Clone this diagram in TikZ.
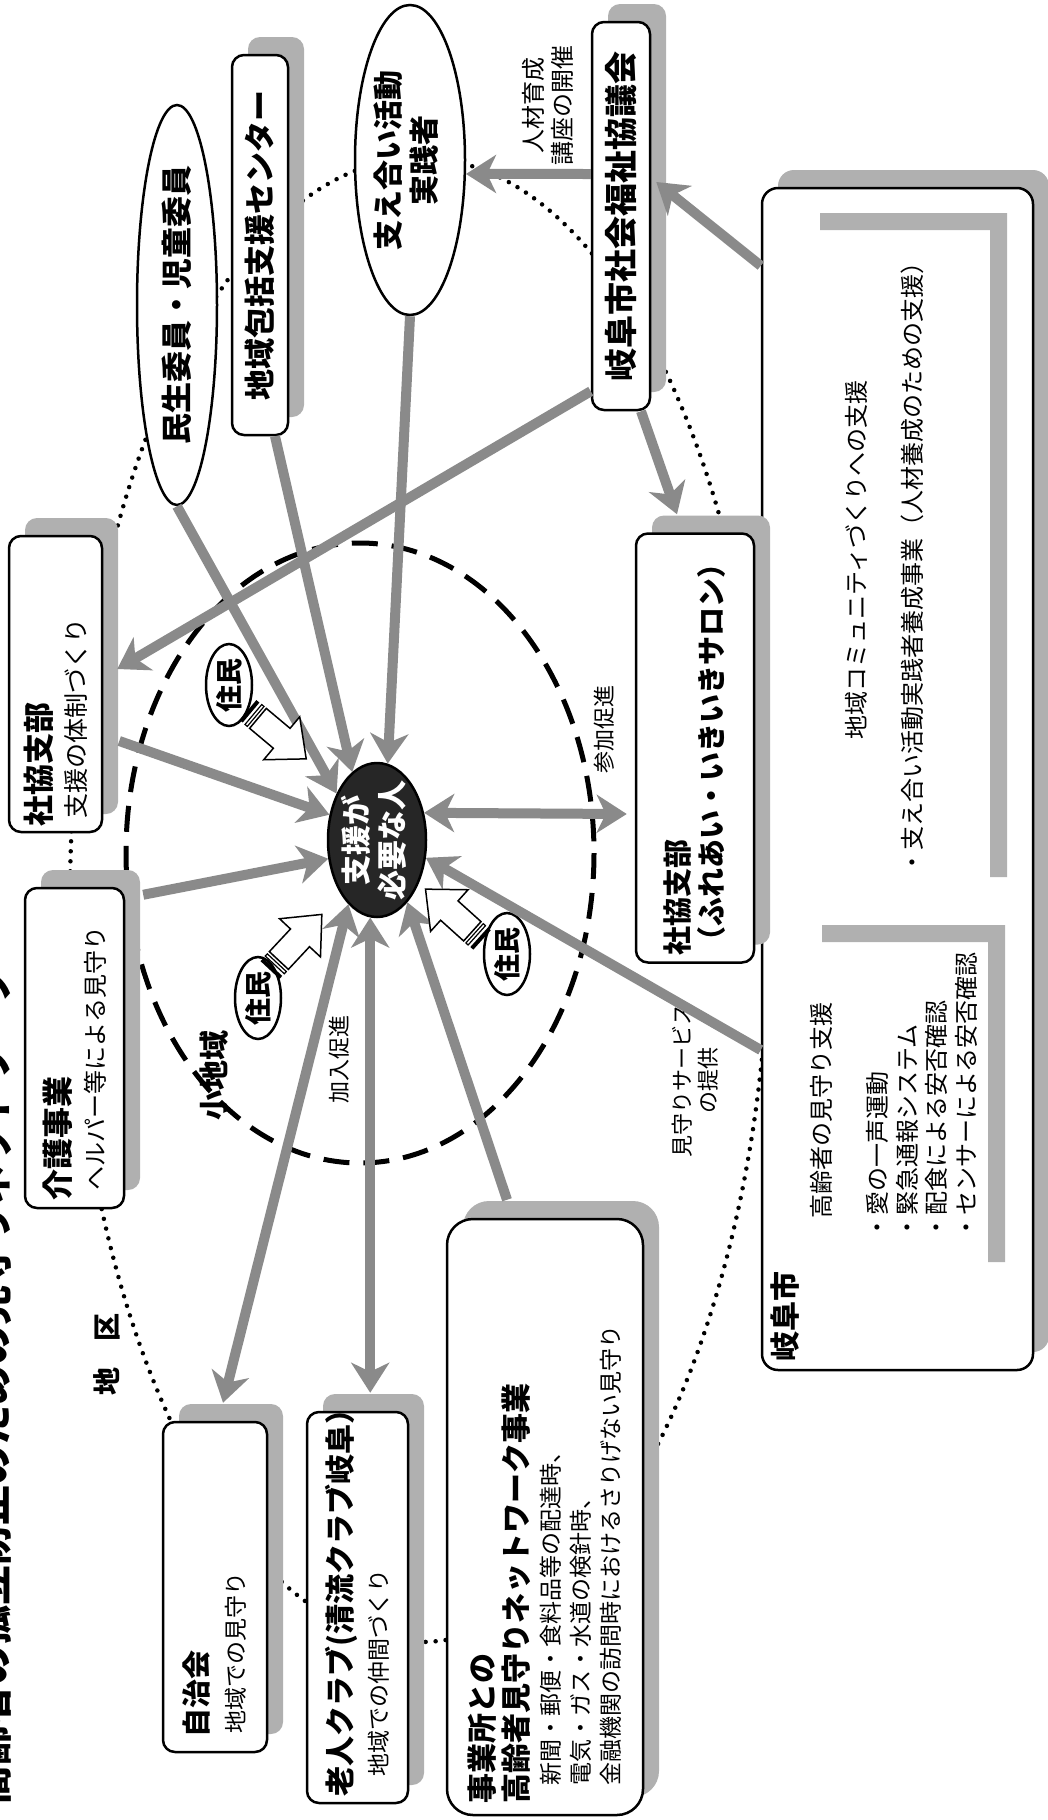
\documentclass[tikz,border=0pt]{standalone}
\usepackage{fontspec}
\setmainfont{Noto Sans CJK JP}
\usepackage{graphicx}
\usetikzlibrary{shapes.geometric, arrows.meta, positioning, shadows}

\definecolor{arrgray}{RGB}{138,138,138}
\definecolor{shgray}{RGB}{176,176,176}
\definecolor{inkdark}{RGB}{38,38,38}

\newcommand{\fs}[2]{\fontsize{#1}{#2}\selectfont}
\newcommand{\tate}[2]{\rotatebox{90}{\parbox{#1}{\raggedright #2}}}
\newcommand{\tatec}[2]{\rotatebox{90}{#1\begin{tabular}{@{}c@{}}#2\end{tabular}}}
\newcommand{\tatel}[2]{\rotatebox{90}{#1\begin{tabular}{@{}l@{}}#2\end{tabular}}}
\newcommand{\stripearrow}[2]{%
  \begin{scope}[shift={#1}, rotate=#2]
    \fill (0,-13) rectangle (4,13);
    \draw[line width=1.2pt] (7,-13) rectangle (10,13);
    \draw[line width=1.5pt, fill=white] (13,-13) -- (44,-13) -- (44,-28) -- (76,0)
      -- (44,28) -- (44,13) -- (13,13) -- cycle;
  \end{scope}}

\begin{document}
\begin{tikzpicture}[x=1pt, y=-1pt, >={Stealth[length=30pt, width=38pt, inset=9pt]}]
        \tikzstyle{panel} = [draw=black, line width=2.5pt, rounded corners=12pt, fill=white, inner sep=0pt,
          general shadow={fill=shgray, shadow xshift=16pt, shadow yshift=18pt}]
        \tikzstyle{oval} = [ellipse, draw=black, line width=2.5pt, fill=white, inner sep=0pt]
        \tikzstyle{connect} = [->, line width=10pt, draw=arrgray]
        \tikzstyle{twoway} = [<->, line width=10pt, draw=arrgray]
        \tikzstyle{lbl} = [inner sep=0pt]
        \path[fill=white, use as bounding box] (0,0) rectangle (1047,1820);

        % rings
        \draw[line width=4.5pt, line cap=round, dash pattern=on 0pt off 10pt] (420,900) ellipse [x radius=350, y radius=742];
        \draw[line width=5pt, dash pattern=on 26pt off 14pt] (360,853) ellipse [x radius=234, y radius=310];

        \node[lbl, anchor=south] (ttl) at (-8,1806) {\rotatebox{90}{\fs{40}{40}\bfseries 高齢者の孤立防止のための見守りネットワーク}};

        % city
        \node[panel, rounded corners=16pt, minimum width=271pt, minimum height=1182pt] (city) at (897.5,779) {};
        \fill[shgray] (820,213) rectangle (1007,230) (990,213) rectangle (1007,877);
        \fill[shgray] (822,925) rectangle (1005,942) (988,925) rectangle (1005,1262);
        \node[lbl, anchor=south] (cityname) at (785,1362) {\rotatebox{90}{\fs{30}{30}\bfseries 岐阜市}};
        \node[lbl] (watchhd) at (821,1110) {\rotatebox{90}{\fs{24}{24}高齢者の見守り支援}};
        \node[lbl, anchor=south] (watchls) at (925,1240) {\tatel{\fs{24}{29.5}}{・愛の一声運動\\・緊急通報システム\\・配食による安否確認\\・センサーによる安否確認}};
        \node[lbl] (commhd) at (856,560) {\rotatebox{90}{\fs{24}{24}地域コミュニティづくりへの支援}};
        \node[lbl, anchor=south] (trainls) at (912,875) {\rotatebox{90}{\fs{24}{24}・支え合い活動実践者養成事業（人材養成のための支援）}};

        % upper nodes
        \node[panel, minimum width=58pt, minimum height=388pt] (shk) at (621,216) {\rotatebox{90}{\fs{33}{33}\bfseries 岐阜市社会福祉協議会}};
        \node[panel, minimum width=56pt, minimum height=380pt] (hokatsu) at (260,245) {\rotatebox{90}{\fs{31}{31}\bfseries 地域包括支援センター}};
        \node[oval, minimum width=80pt, minimum height=400pt] (minsei) at (177,305) {\rotatebox{90}{\fs{31}{31}\bfseries 民生委員・児童委員}};
        \node[oval, minimum width=110pt, minimum height=310pt] (sasae) at (410,160) {\tatec{\fs{30}{34}\bfseries}{支え合い活動\\実践者}};
        \node[lbl] (jinzai) at (551,105) {\tatec{\fs{24}{29}}{人材育成\\講座の開催}};

        % centre
        \node[oval, fill=inkdark, text=white, inner sep=-8pt, minimum width=98pt, minimum height=154pt] (sien) at (377,840) {\tatec{\fs{30}{34}\bfseries}{支援が\\必要な人}};
        \node[oval, minimum width=46pt, minimum height=82pt] (ju1) at (229,685) {\rotatebox{90}{\fs{27}{27}\bfseries 住民}};
        \node[oval, minimum width=46pt, minimum height=82pt] (ju2) at (258,998) {\rotatebox{90}{\fs{27}{27}\bfseries 住民}};
        \node[oval, minimum width=46pt, minimum height=82pt] (ju3) at (507,954) {\rotatebox{90}{\fs{27}{27}\bfseries 住民}};

        % side boxes
        \node[panel, minimum width=93pt, minimum height=296pt] (shakyo) at (55.5,684) {\tate{284pt}{\fs{25}{35}{\fs{31}{31}\bfseries 社協支部}\\\hspace*{8pt}支援の体制づくり}};
        \node[panel, minimum width=99pt, minimum height=320pt] (kaigo) at (74.5,1048) {\tate{304pt}{\fs{24}{35}{\fs{31}{31}\bfseries 介護事業}\\\hspace*{10pt}ヘルパー等による見守り}};
        \node[panel, minimum width=118pt, minimum height=429pt] (salon) at (695,748) {\tate{415pt}{\fs{29}{34}\bfseries 社協支部\\（ふれあい・いきいきサロン）}};

        % bottom boxes
        \node[panel, minimum width=104pt, minimum height=330pt] (jichi) at (215,1587) {\tate{300pt}{\fs{23}{37}{\fs{29}{29}\bfseries 自治会}\\\hspace*{4pt}地域での見守り}};
        \node[panel, minimum width=101pt, minimum height=391pt] (rojin) at (357.5,1607.5) {\tate{378pt}{\fs{23}{36}{\fs{30}{30}\bfseries 老人クラブ(清流クラブ岐阜）}\\\hspace*{20pt}地域での仲間づくり}};
        \node[panel, rounded corners=26pt, minimum width=196pt, minimum height=596pt] (jigyo) at (545,1517) {\tate{572pt}{\fs{30}{34}\bfseries 事業所との\\高齢者見守りネットワーク事業\\[2pt]\fs{23}{30}\mdseries\hspace*{18pt}新聞・郵便・食料品等の配達時、\\\hspace*{18pt}電気・ガス・水道の検針時、\\\hspace*{18pt}金融機関の訪問時におけるさりげない見守り}};

        % labels
        \node[lbl] (sanka) at (604,729) {\rotatebox{90}{\fs{22}{22}参加促進}};
        \node[lbl] (kanyu) at (339,1059) {\rotatebox{90}{\fs{22}{22}加入促進}};
        \node[lbl] (mimamori) at (698,1080) {\tatec{\fs{22}{26}}{見守りサービス\\の提供}};
        \node[lbl] (shochiki) at (214,1075) {\rotatebox{90}{\fs{30}{30}\bfseries 小地域}};
        \node[lbl] (chiku) at (107,1354) {\rotatebox{90}{\fs{28}{28}\bfseries 地\hspace{26pt}区}};

        \coordinate (rt) at ([yshift=18pt]rojin.north);
        \path (minsei.south) edge[connect] (sien.131)
          ([xshift=15pt]hokatsu.south) edge[connect] (sien.110)
          (sasae.south) edge[connect] (sien.82)
          ([yshift=20pt]shk.south west) edge[connect] ([xshift=14pt,yshift=15pt]shakyo.east)
          ([xshift=20pt]shk.south) edge[connect] ([xshift=-18pt,yshift=18pt]salon.north)
          ([yshift=42pt]shk.west) edge[connect] (sasae.-14)
          ([yshift=-79pt]city.north west) edge[connect] ([xshift=5pt,yshift=34pt]shk.east)
          ([yshift=-271pt]city.west) edge[connect] (sien.-20)
          ([xshift=16pt,yshift=-57pt]shakyo.east) edge[connect] (sien.152)
          ([xshift=18pt,yshift=-8pt]kaigo.north east) edge[connect] (sien.201)
          (sien.246) edge[twoway] ([xshift=8pt,yshift=18pt]jichi.north)
          (sien.265) edge[twoway] (sien.265 |- rt)
          ([xshift=-38pt,yshift=18pt]jigyo.north) edge[connect] (sien.-64)
          (sien.30) edge[twoway] ([xshift=-8pt,yshift=-66pt]salon.west);

        \stripearrow{(248,710)}{-40}
        \stripearrow{(270,970)}{47}
        \stripearrow{(482,940)}{138}
      \end{tikzpicture}
\end{document}
